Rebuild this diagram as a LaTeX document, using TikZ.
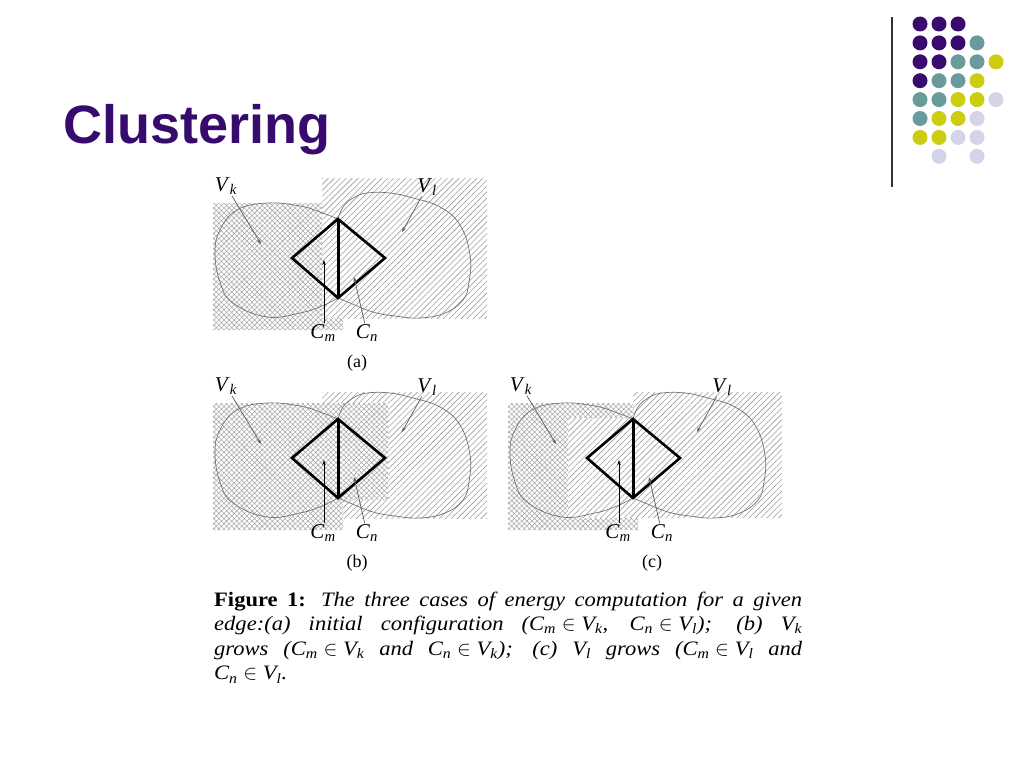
\documentclass[tikz,border=0pt]{standalone}
\usepackage{fontspec}
\setmainfont{Liberation Serif}
\newfontfamily\titlefont{Liberation Sans}
\newfontfamily\capfont[FakeStretch=1.1]{Liberation Serif}
\usetikzlibrary{patterns.meta,arrows.meta}
\definecolor{ttl}{HTML}{370A6E}
\definecolor{dP}{HTML}{3A0B6E}
\definecolor{dT}{HTML}{6A9B9C}
\definecolor{dY}{HTML}{CCCC11}
\definecolor{dL}{HTML}{D4D4E8}
\newcommand{\vs}[2]{\textit{#1}\textsubscript{\textit{#2}}}
\newcommand{\inn}{\hspace{0.28em}$\in$\hspace{0.28em}}
\newcommand{\panelcommon}[1]{%
  \coordinate (T) at (338,219);
  \coordinate (L) at (292,258);
  \coordinate (R) at (385,258);
  \coordinate (B) at (338,298);
  \draw[blob] plot[smooth, tension=0.7] coordinates {(338,219) (320,212) (300,206) (267,203) (237,210) (220,230) (215,253) (220,282) (233,303) (267,317) (300,313) (322,306) (338,298)};
  \draw[blob] plot[smooth, tension=0.7] coordinates {(338,219) (343,207) (353,198) (367,193) (390,193) (413,198) (440,207) (460,225) (470,255) (469,282) (463,300) (445,313) (420,318) (395,316) (373,312) (350,303) (338,298)};
  \draw[dia] (T) -- (R) -- (B) -- (L) -- cycle;
  \draw[line width=3pt] (T) -- (B);
  \node[lbl] (vk) at (226,186) {\vs{V}{k}};
  \coordinate (vkt) at (261,244);
  \draw[arr] (vk) -- (vkt);
  \node[lbl] (vl) at (427,187) {\vs{V}{l}};
  \coordinate (vlt) at (402,232);
  \draw[arr] (vl) -- (vlt);
  \node[lbl] (cm) at (323,333) {\vs{C}{m}};
  \coordinate (cmt) at (324,260);
  \draw[arr, draw=black] (cm.north -| cmt) -- (cmt);
  \node[lbl] (cn) at (367,333) {\vs{C}{n}};
  \coordinate (cnt) at (354,277);
  \draw[arr] (cn) -- (cnt);
  \node[capl] (cap) at (357,363) {(#1)};
}
\begin{document}
\begin{tikzpicture}[x=1pt,y=-1pt,
  blob/.style={draw=black!55, line width=0.7pt},
  dia/.style={line width=2.6pt, line join=miter},
  lbl/.style={font=\fontsize{21}{22}\selectfont, inner sep=1pt},
  capl/.style={font=\fontsize{18}{20}\selectfont, inner sep=0pt},
  arr/.style={draw=black!65, line width=0.7pt, -{Stealth[length=5pt,width=3.5pt]}},
  diagh/.style={pattern={Lines[angle=45,distance=4.2pt,line width=0.6pt]}, pattern color=black!38},
  crossh/.style={preaction={fill=white}, pattern={Hatch[angle=45,distance=3.6pt,line width=0.55pt]}, pattern color=black!34}]
\useasboundingbox (0,0) rectangle (1024,768);
\fill[white] (0,0) rectangle (1024,768);
% title
\node[anchor=base west, inner sep=0pt, text=ttl, font=\titlefont\bfseries\fontsize{54}{60}\selectfont] (title) at (63,143) {Clustering};
% decoration
\draw[line width=1.3pt, black!80] (892,17) -- (892,187);
\foreach \r/\row in {0/{P,P,P}, 1/{P,P,P,T}, 2/{P,P,T,T,Y}, 3/{P,T,T,Y}, 4/{T,T,Y,Y,L}, 5/{T,Y,Y,L}, 6/{Y,Y,L,L}, 7/{N,L,N,L}} {
  \foreach \c [count=\i from 0] in \row {
    \if\c N\else
      \fill[d\c] ({920+19*\i},{24+18.9*\r}) circle (7.5);
    \fi
  }
}
% panel (a)
\begin{scope}[name prefix=a-]
  \fill[diagh] (322,178) rectangle (487,318);
  \fill[crossh] (213,203) -- (322,203) -- (322,318) -- (343,318) -- (343,330) -- (213,330) -- cycle;
  \panelcommon{a}
\end{scope}
% panel (b)
\begin{scope}[shift={(0,200)}, name prefix=b-]
  \fill[diagh] (322,192) rectangle (487,318);
  \fill[crossh] (213,203) -- (388,203) -- (388,300) -- (343,300) -- (343,330) -- (213,330) -- cycle;
  \panelcommon{b}
\end{scope}
% panel (c)
\begin{scope}[shift={(295,200)}, name prefix=c-]
  \fill[diagh] (273,218) -- (338,218) -- (338,192) -- (487,192) -- (487,318) -- (273,318) -- cycle;
  \fill[crossh] (213,203) -- (338,203) -- (338,218) -- (273,218) -- (273,318) -- (343,318) -- (343,330) -- (213,330) -- cycle;
  \panelcommon{c}
\end{scope}
% caption
\node[anchor=north west, inner sep=0pt, text width=588pt, align=justify, font=\capfont\fontsize{20.5}{24.6}\selectfont] (fig) at (214,591.5)
 {\textbf{Figure 1:} \textit{The three cases of energy computation for a given}\linebreak
  \textit{edge:(a) initial configuration (\vs{C}{m}\inn\vs{V}{k}, \vs{C}{n}\inn\vs{V}{l}); (b) \vs{V}{k}}\linebreak
  \textit{grows (\vs{C}{m}\inn\vs{V}{k} and \vs{C}{n}\inn\vs{V}{k}); (c) \vs{V}{l} grows (\vs{C}{m}\inn\vs{V}{l} and}\linebreak
  \textit{\vs{C}{n}\inn\vs{V}{l}.}};
\end{tikzpicture}
\end{document}
